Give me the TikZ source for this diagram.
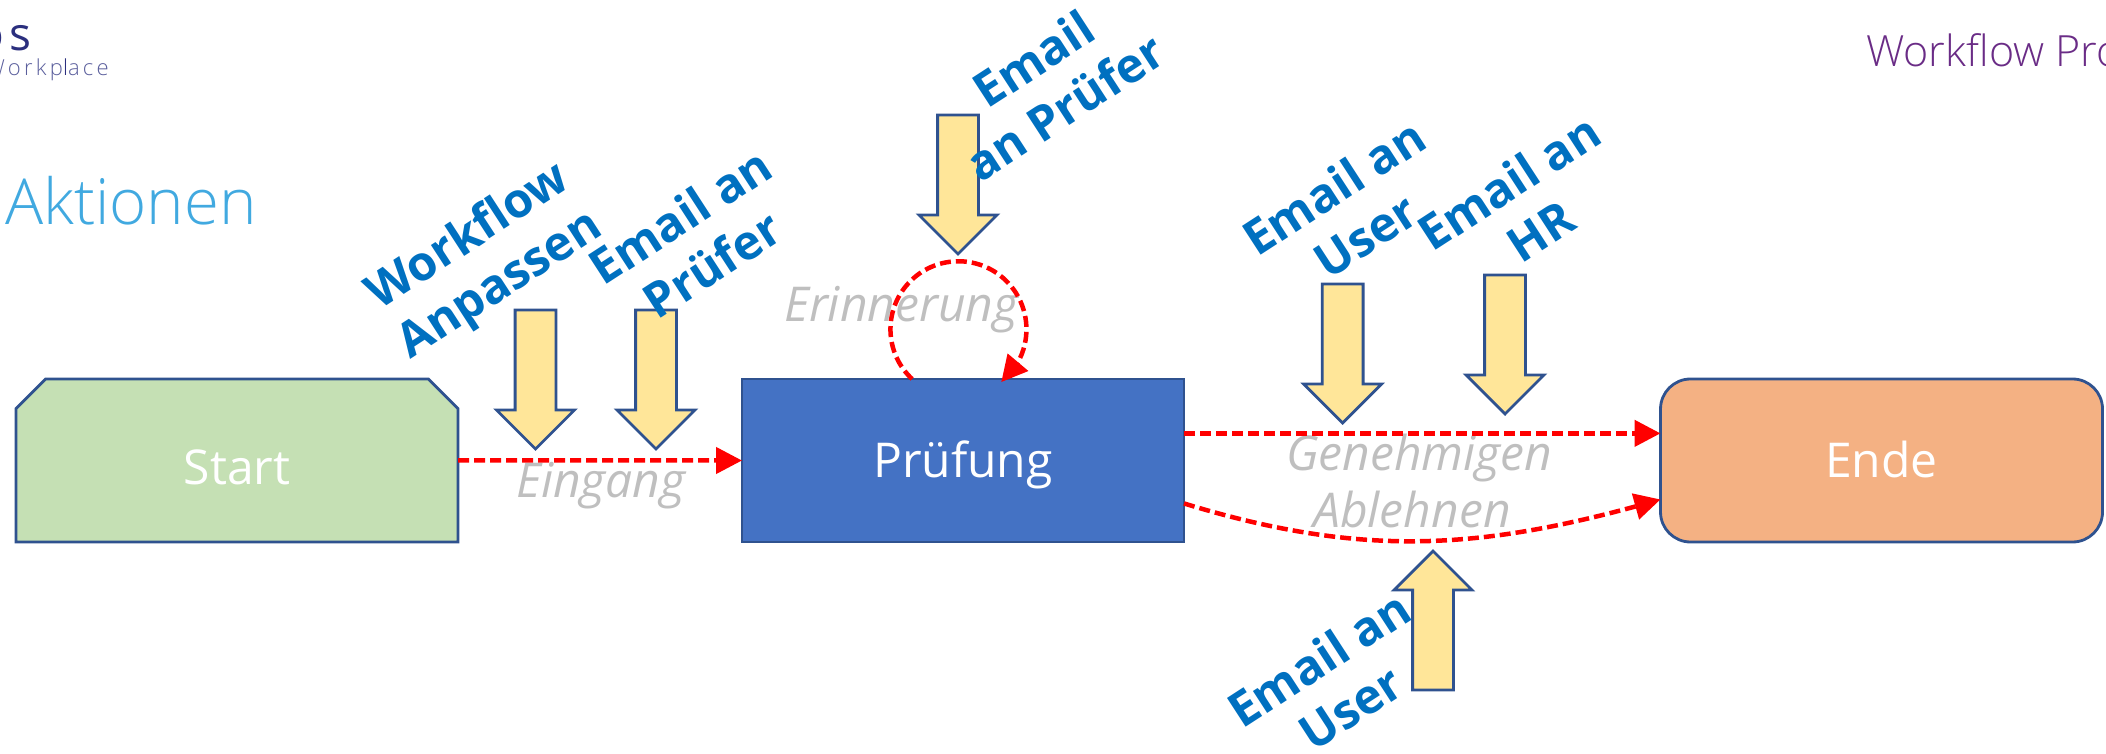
\documentclass[tikz,border=0pt]{standalone}
\usepackage{fontspec}
\setmainfont{Open Sans}
\newfontfamily\lightfont{Open Sans Light}
\newfontfamily\logofont[LetterSpace=15]{Open Sans Light}
\newfontfamily\logobold[LetterSpace=10]{Open Sans}
\usetikzlibrary{arrows.meta,bending,shapes.misc,shapes.arrows}
\definecolor{randblau}{HTML}{2F528F}
\definecolor{gruen}{HTML}{C5E0B4}
\definecolor{blau}{HTML}{4472C4}
\definecolor{lachs}{HTML}{F4B183}
\definecolor{gelb}{HTML}{FFE699}
\definecolor{textblau}{HTML}{0070C0}
\definecolor{titelblau}{HTML}{41A9E0}
\definecolor{lila}{HTML}{6A2C86}
\definecolor{navy}{HTML}{2B2F7E}
\definecolor{navyhell}{HTML}{5A5E9C}

\begin{document}
\begin{tikzpicture}[x=1pt,y=1pt]
\tikzstyle{kasten}=[draw=randblau, line width=2.8pt, outer sep=0pt, text=white,
    minimum width=442pt, minimum height=163pt, text height=34pt, text depth=0pt,
    font=\fontsize{48}{52}\selectfont]
\tikzstyle{pfeil}=[single arrow, draw=randblau, fill=gelb, line width=2.8pt, outer sep=0pt,
    inner sep=19pt, minimum height=139pt, minimum width=75pt, single arrow head extend=18.5pt,
    single arrow tip angle=90, single arrow head indent=0pt, anchor=tip]
\tikzstyle{status}=[text=black!25, anchor=base west, inner sep=0pt,
    font=\fontsize{48}{50}\selectfont\itshape]
\tikzstyle{aktion}=[text=textblau, align=center, rotate=33, inner sep=0pt,
    font=\fontsize{48}{58}\selectfont\bfseries]
\tikzstyle{linie}=[red, dashed, dash pattern=on 11pt off 5pt, line width=4.5pt,
    -{Triangle[length=26pt,width=26pt,flex]}]

\useasboundingbox (0,0) rectangle (2106,753);

% Kopf
\node[anchor=base east, inner sep=0pt, text=navy, font=\fontsize{46}{50}\logobold] (logo) at (31.5,702) {os};
\node[anchor=base east, inner sep=0pt, text=navyhell, font=\fontsize{22}{28}\logofont] (sub) at (109,677)
    {Workp{\color{navy}l}ace};
\node[anchor=base west, inner sep=0pt, text=titelblau, font=\fontsize{63.5}{70}\lightfont] (titel) at (5,528) {Aktionen};
\node[anchor=base west, inner sep=0pt, text=lila, font=\fontsize{43}{48}\lightfont] (kopf) at (1866,686) {Workflow Pro};

% Schritte
\node[kasten, chamfered rectangle, chamfered rectangle corners={north east,north west},
    chamfered rectangle xsep=14.8pt, chamfered rectangle ysep=14.8pt, fill=gruen] (start) at (237,292.5) {\raisebox{-6.5pt}{Start}};
\node[kasten, rectangle, fill=blau] (pruefung) at (963,292.5) {Prüfung};
\node[kasten, rectangle, rounded corners=30pt, fill=lachs] (ende) at (1881.5,292.5) {Ende};

% Status
\node[status] (eingang) at (516,256) {Eingang};
\node[status] (erinnerung) at (784,431) {Erinnerung};
\node[status] (genehmigen) at (1286,283) {Genehmigen};
\node[status] (ablehnen) at (1313,226) {Ablehnen};

\draw[linie] (start) -- (pruefung);
\draw[linie] (pruefung.east |- ende.173.16) -- (ende.173.16);
\draw[linie] (pruefung.-11.8) to[out=-17,in=196] (ende.190.4);
\draw[linie] (pruefung.122.4) arc[start angle=227,end angle=-51,radius=68];

% Aktionen
\node[pfeil, shape border rotate=270] (p1) at (535.5,304) {};
\node[pfeil, shape border rotate=270] (p2) at (656,304) {};
\node[pfeil, shape border rotate=270] (p3) at (958,499) {};
\node[pfeil, shape border rotate=270] (p4) at (1342.7,330) {};
\node[pfeil, shape border rotate=270] (p5) at (1505,339) {};
\node[pfeil, shape border rotate=90] (p6) at (1433,202) {};

\node[aktion] (a1) at (485,491) {Workflow\\Anpassen};
\node[aktion] (a2) at (696,513) {Email an\\Prüfer};
\node[aktion] (a3) at (1049,670) {Email\\an Prüfer};
\node[aktion] (a4) at (1349.5,542) {Email an\\User};
\node[aktion] (a5) at (1524.5,547) {Email an\\HR};
\node[aktion] (a6) at (1334.5,70) {Email an\\User};
\end{tikzpicture}
\end{document}
